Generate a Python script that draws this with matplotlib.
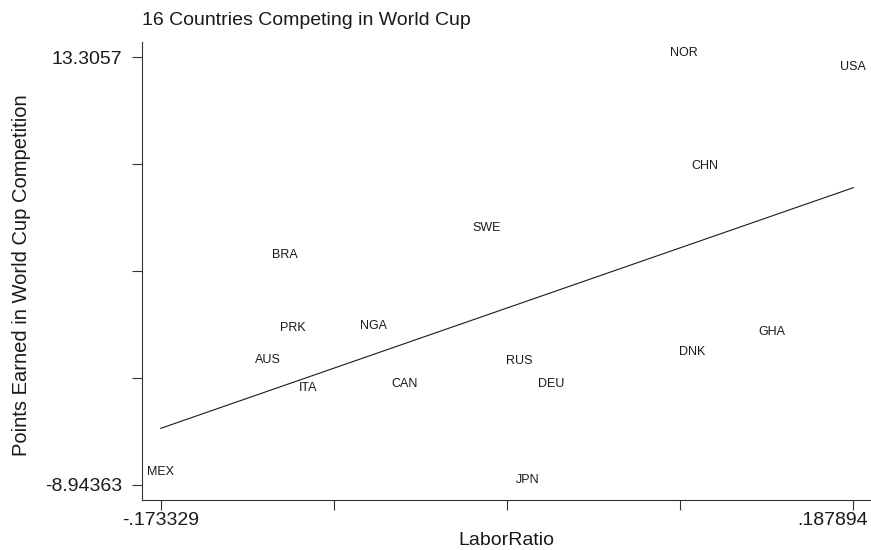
import numpy as np
import matplotlib
matplotlib.use("Agg")
import matplotlib.pyplot as plt
import matplotlib.transforms as mtransforms

plt.rcParams['font.family'] = ['Liberation Sans', 'DejaVu Sans']

countries = ["NOR", "USA", "CHN", "SWE", "BRA", "PRK", "NGA", "AUS",
             "ITA", "CAN", "MEX", "RUS", "DEU", "JPN", "DNK", "GHA"]
labor_ratio = [0.0994, 0.187894, 0.1107, -0.0035, -0.1087, -0.1046, -0.0622, -0.1175,
               -0.0964, -0.0462, -0.173329, 0.0135, 0.0304, 0.0182, 0.1037, 0.1453]
points = [13.3057, 12.54, 7.39, 4.19, 2.79, -1.03, -0.89, -2.66,
          -4.12, -3.91, -8.52, -2.73, -3.91, -8.94363, -2.24, -1.20]

x_ticks = [-0.173329, -0.083024, 0.007282, 0.097588, 0.187894]
x_ticklabels = ["-.173329", "", "", "", ".187894"]
y_ticks = [13.3057, 7.7434, 2.1810, -3.3813, -8.94363]
y_ticklabels = ["13.3057", "", "", "", "-8.94363"]

x = np.array(labor_ratio)
y = np.array(points)

fig = plt.figure(figsize=(8.71, 5.5), dpi=100)
ax = fig.add_axes([142/871, 1 - 500/550, 729/871, 458/550])

# labels only, no markers (centered on the point, like mlabpos(0))
for name, xi, yi in zip(countries, x, y):
    ax.annotate(name, (xi, yi), xytext=(0, 3.3), textcoords='offset points',
                ha='center', va='center', fontsize=9, color='#1a1a1a')

# linear fit
coeffs = np.polyfit(x, y, 1)
fit = np.poly1d(coeffs)
xs = np.sort(x)
ax.plot(xs, fit(xs), color='#1a1a1a', lw=0.8)

ax.set_xlim(-0.183082, 0.197125)
ax.set_ylim(-9.724, 14.102)

ax.set_xticks(x_ticks)
ax.set_xticklabels(x_ticklabels)
ax.set_yticks(y_ticks)
ax.set_yticklabels(y_ticklabels)
ax.tick_params(axis='both', direction='out', length=7.5, width=0.8,
               colors='#333333', labelcolor='#1a1a1a', labelsize=14)
ax.tick_params(axis='x', pad=1)
ax.tick_params(axis='y', pad=6.5)

# last x label pushed inside the figure, right-aligned
last = ax.get_xticklabels()[-1]
last.set_ha('right')
last.set_transform(last.get_transform() +
                   mtransforms.ScaledTranslation(0.15, 0, fig.dpi_scale_trans))

for s in ['top', 'right']:
    ax.spines[s].set_visible(False)
for s in ['left', 'bottom']:
    ax.spines[s].set_color('#333333')
    ax.spines[s].set_linewidth(0.8)

ax.set_xlabel("LaborRatio", fontsize=14, color='#1a1a1a')
ax.xaxis.set_label_coords(0.5, -0.07)
ax.set_ylabel("Points Earned in World Cup Competition", fontsize=14.5, color='#1a1a1a')
ax.yaxis.set_label_coords(-0.152, 0.491)
ax.set_title("16 Countries Competing in World Cup", loc='left', fontsize=14,
             color='#1a1a1a', pad=12.2)

fig.savefig("out.png", dpi=100)
